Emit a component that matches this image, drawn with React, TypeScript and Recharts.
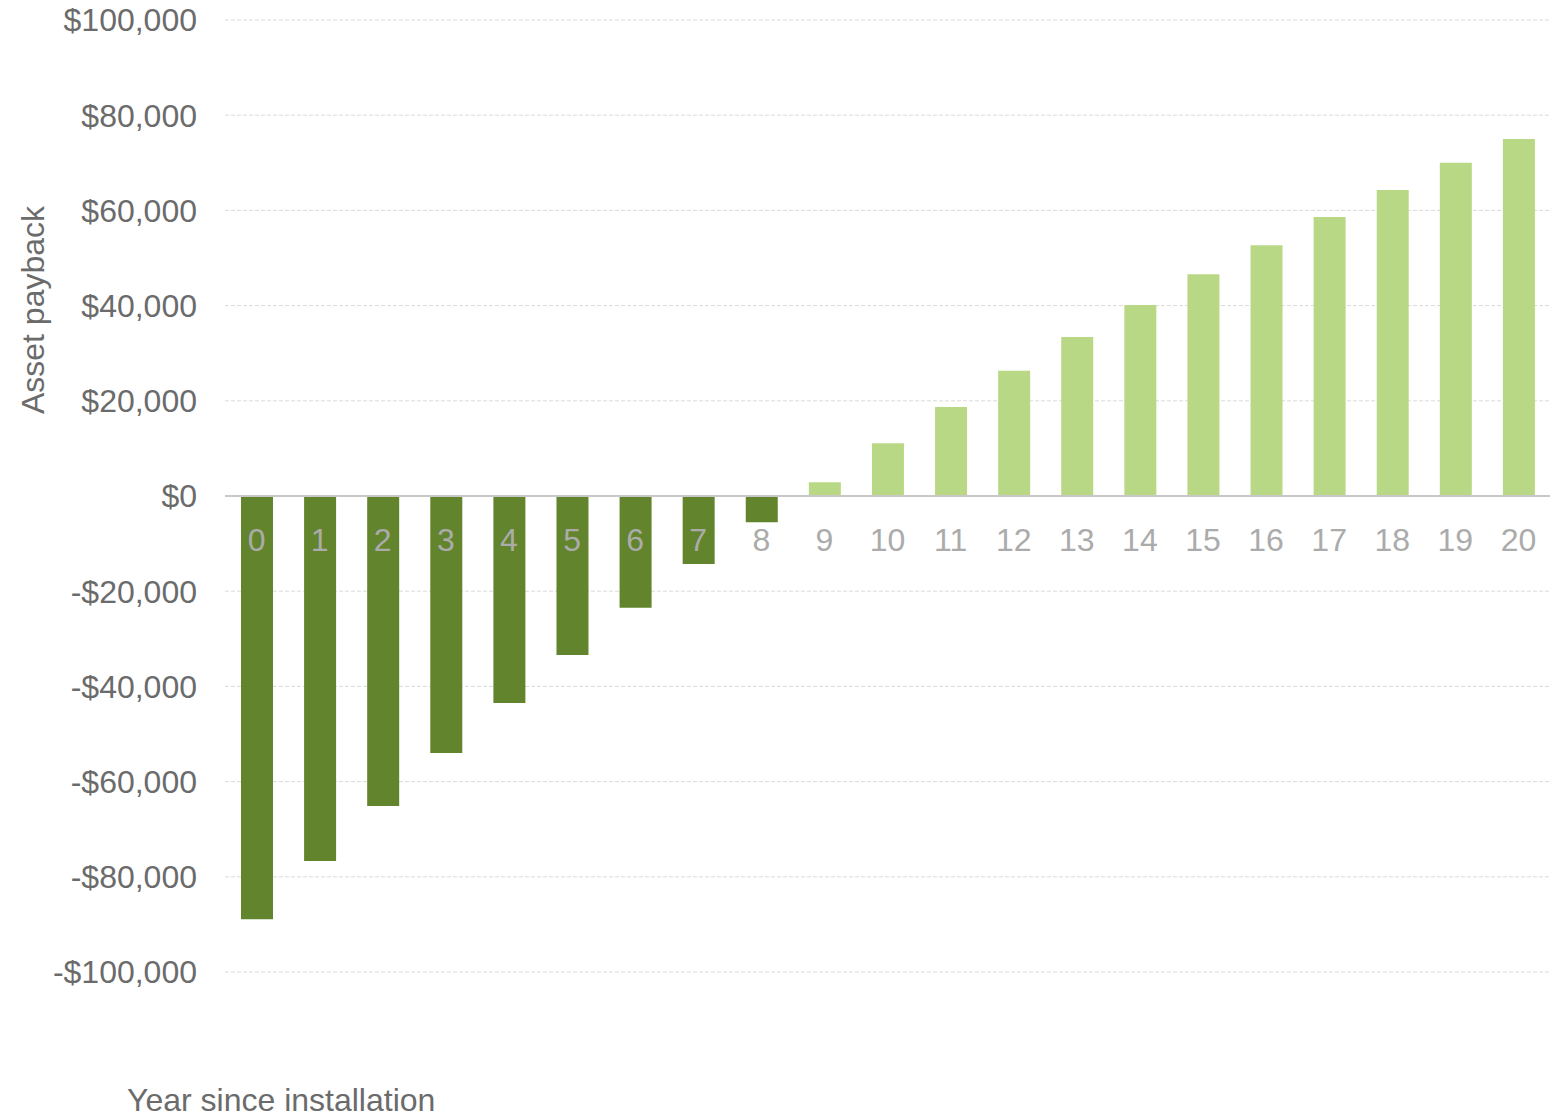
import React from "react";
import {
  BarChart,
  Bar,
  Cell,
  XAxis,
  YAxis,
  CartesianGrid,
  ReferenceLine,
} from "recharts";

const years = [
  "0", "1", "2", "3", "4", "5", "6", "7", "8", "9", "10",
  "11", "12", "13", "14", "15", "16", "17", "18", "19", "20",
];

const payback = [
  -88900, -76700, -65100, -54000, -43500, -33400, -23500, -14300, -5500,
  2900, 11100, 18700, 26300, 33400, 40100, 46600, 52700, 58600, 64300,
  70000, 75000,
];

const yTicks = [-100000, -80000, -60000, -40000, -20000, 0, 20000, 40000, 60000, 80000, 100000];

const NEG_COLOR = "#62842C";
const POS_COLOR = "#B9D886";
const TEXT_COLOR = "#6B6B6B";
const FONT = "'Liberation Sans', Arial, sans-serif";
const FS = 32;

const W = 1565;
const H = 1114;
const TOP = 20;
const BOTTOM = 142;
const PLOT_H = H - TOP - BOTTOM;
const ZERO_Y = TOP + PLOT_H / 2;

const data = years.map((y, i) => ({ year: y, value: payback[i] }));

function fmtMoney(v: number) {
  const s = "$" + Math.abs(v).toLocaleString("en-US");
  return v < 0 ? "-" + s : s;
}

// year labels sit just under the zero line, not at the bottom of the plot
function YearTick({ x, payload }: any) {
  return (
    <text
      x={x}
      y={ZERO_Y + 44}
      textAnchor="middle"
      dominantBaseline="central"
      fill="#ABABAB"
      fontSize={FS}
      fontFamily={FONT}
    >
      {payload.value}
    </text>
  );
}

export default function App() {
  return (
    <div style={{ position: "absolute", left: 0, top: 0, background: "#fff" }}>
      <BarChart
        width={W}
        height={H}
        data={data}
        margin={{ top: TOP, right: 15, bottom: BOTTOM - 2, left: 0 }}
        barSize={32}
      >
        <CartesianGrid
          vertical={false}
          stroke="#DADADA"
          strokeDasharray="4 2"
        />
        <YAxis
          width={225}
          domain={[-100000, 100000]}
          ticks={yTicks}
          tickFormatter={fmtMoney}
          axisLine={false}
          tickLine={false}
          tickSize={0}
          tickMargin={28}
          tick={{ fill: TEXT_COLOR, fontSize: FS, fontFamily: FONT }}
          label={{
            value: "Asset payback",
            content: () => (
              <text
                x={33}
                y={310}
                transform="rotate(-90 33 310)"
                textAnchor="middle"
                dominantBaseline="central"
                fill={TEXT_COLOR}
                fontSize={FS}
                fontFamily={FONT}
              >
                Asset payback
              </text>
            ),
          }}
        />
        <XAxis
          dataKey="year"
          height={2}
          axisLine={false}
          tickLine={false}
          interval={0}
          tick={YearTick}
          label={{
            value: "Year since installation",
            content: () => (
              <text
                x={127}
                y={1100}
                dominantBaseline="central"
                fill={TEXT_COLOR}
                fontSize={FS}
                fontFamily={FONT}
              >
                Year since installation
              </text>
            ),
          }}
        />
        <Bar dataKey="value" isAnimationActive={false}>
          {data.map((d, i) => (
            <Cell key={i} fill={d.value < 0 ? NEG_COLOR : POS_COLOR} />
          ))}
        </Bar>
        <ReferenceLine y={0} stroke="#C8C8C8" strokeWidth={2} />
      </BarChart>
    </div>
  );
}
